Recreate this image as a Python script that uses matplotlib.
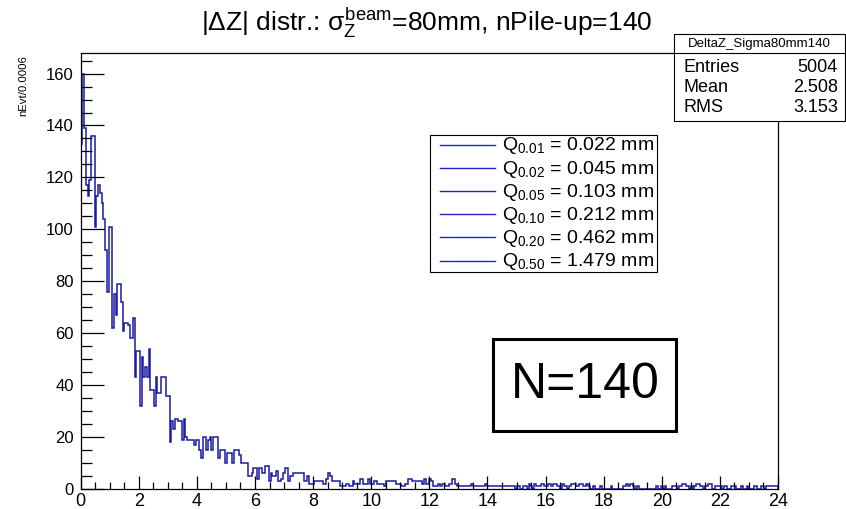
import numpy as np
import matplotlib
matplotlib.use("Agg")
import matplotlib.pyplot as plt
from matplotlib.patches import Rectangle
from matplotlib.lines import Line2D
from matplotlib.ticker import MultipleLocator

plt.rcParams['font.family'] = ['Liberation Sans', 'DejaVu Sans']
plt.rcParams['mathtext.fontset'] = 'custom'
plt.rcParams['mathtext.rm'] = 'Liberation Sans'
plt.rcParams['mathtext.it'] = 'Liberation Sans'
plt.rcParams['mathtext.bf'] = 'Liberation Sans:bold'

# |dZ| histogram, 400 bins of 0.06 mm between 0 and 24 mm
x_min, x_max, n_bins = 0.0, 24.0, 400
counts = [
    133, 160, 139, 117, 113, 119, 136, 136, 101, 113, 117, 114, 110, 104, 92, 76, 101, 101, 62, 75,
    67, 79, 79, 72, 61, 64, 64, 63, 58, 58, 66, 43, 53, 53, 32, 51, 43, 47, 43, 54,
    38, 38, 32, 43, 37, 37, 43, 43, 43, 36, 36, 18, 26, 23, 27, 27, 26, 26, 19, 27,
    20, 19, 19, 19, 19, 17, 19, 19, 15, 12, 20, 20, 15, 19, 20, 15, 20, 20, 20, 12,
    15, 15, 15, 10, 14, 14, 14, 10, 15, 15, 15, 13, 10, 10, 10, 10, 5, 5, 6, 8,
    8, 4, 8, 8, 6, 6, 9, 9, 3, 6, 5, 5, 7, 3, 3, 4, 6, 8, 8, 3,
    5, 5, 6, 6, 6, 6, 6, 6, 3, 3, 5, 2, 2, 2, 3, 3, 3, 3, 3, 2,
    2, 4, 6, 5, 3, 3, 3, 3, 3, 1, 1, 1, 2, 2, 1, 1, 3, 2, 2, 2,
    4, 4, 2, 2, 2, 4, 2, 2, 3, 3, 2, 2, 2, 2, 1, 3, 3, 3, 3, 3,
    3, 2, 2, 2, 1, 1, 2, 2, 4, 4, 3, 3, 3, 3, 3, 3, 2, 4, 2, 2,
    4, 3, 1, 1, 1, 2, 1, 2, 2, 1, 1, 2, 2, 4, 4, 2, 1, 1, 1, 1,
    1, 1, 1, 1, 2, 1, 1, 1, 1, 1, 1, 1, 2, 1, 1, 1, 1, 1, 1, 1,
    1, 1, 1, 1, 1, 1, 1, 1, 1, 0, 1, 1, 0, 0, 1, 1, 0, 2, 1, 0,
    2, 1, 1, 1, 2, 2, 1, 1, 2, 2, 1, 2, 2, 1, 1, 0, 2, 1, 1, 0,
    1, 2, 2, 2, 1, 1, 2, 2, 1, 1, 2, 1, 0, 0, 1, 0, 0, 0, 1, 0,
    0, 0, 0, 0, 1, 0, 0, 0, 0, 0, 0, 1, 1, 2, 1, 2, 2, 1, 0, 1,
    0, 0, 0, 0, 0, 0, 0, 0, 0, 0, 1, 0, 0, 1, 0, 1, 0, 0, 0, 1,
    1, 1, 0, 1, 1, 2, 2, 1, 1, 0, 1, 0, 1, 2, 2, 1, 1, 0, 1, 1,
    2, 2, 0, 0, 1, 1, 1, 1, 0, 1, 1, 0, 0, 1, 1, 1, 0, 0, 0, 1,
    0, 0, 1, 0, 0, 0, 1, 1, 0, 0, 1, 1, 0, 1, 1, 1, 1, 1, 1, 1,
]

quantile_levels = ['0.01', '0.02', '0.05', '0.10', '0.20', '0.50']
quantile_values = [0.022, 0.045, 0.103, 0.212, 0.462, 1.479]

stats_title = 'DeltaZ_Sigma80mm140'
stats_names = ['Entries', 'Mean', 'RMS']
stats_values = ['5004', '2.508', '3.153']

W, H = 846, 509
fig = plt.figure(figsize=(W / 100, H / 100), dpi=100)

def fx(px):
    return px / W

def fy(py):
    return 1 - py / H

ax = fig.add_axes([fx(80.7), fy(489), fx(778) - fx(80.7), fy(53.3) - fy(489)])

edges = np.linspace(x_min, x_max, n_bins + 1)
ax.stairs(counts, edges, color='#1a1aa6', lw=1.1, baseline=0)

ax.set_xlim(x_min, x_max)
ax.set_ylim(0, 167.8)
ax.xaxis.set_major_locator(MultipleLocator(2))
ax.xaxis.set_minor_locator(MultipleLocator(0.5))
ax.yaxis.set_major_locator(MultipleLocator(20))
ax.yaxis.set_minor_locator(MultipleLocator(5))
ax.tick_params(axis='x', which='major', direction='in', length=9.2, width=0.9, labelsize=13, pad=3)
ax.tick_params(axis='x', which='minor', direction='in', length=4.8, width=0.9)
ax.tick_params(axis='y', which='major', direction='in', length=16.3, width=0.9, labelsize=12, pad=5)
ax.tick_params(axis='y', which='minor', direction='in', length=8, width=0.9)
for sp in ax.spines.values():
    sp.set_linewidth(0.9)

# title with stacked sub/superscript
fig.text(fx(427), fy(31), r'|$\Delta$Z| distr.: $\sigma_{Z}^{beam}$=80mm, nPile-up=140',
         ha='center', va='baseline', fontsize=19)

fig.text(fx(23), fy(55), 'nEvt/0.0006', rotation=90, ha='center', va='top', fontsize=8.2)

# statistics box
fig.patches.append(Rectangle((fx(674), fy(121)), fx(845) - fx(674), fy(34) - fy(121),
                             transform=fig.transFigure, facecolor='white',
                             edgecolor='black', lw=0.8, zorder=5))
fig.lines.append(Line2D([fx(674), fx(845)], [fy(52.7), fy(52.7)],
                        transform=fig.transFigure, color='black', lw=0.8, zorder=6))
fig.text(fx(759), fy(43.5), stats_title, ha='center', va='center', fontsize=9.5, zorder=7)
for i, (name, val) in enumerate(zip(stats_names, stats_values)):
    y = fy(67 + 20 * i)
    fig.text(fx(683), y, name, ha='left', va='center', fontsize=13, zorder=7)
    fig.text(fx(838), y, val, ha='right', va='center', fontsize=13, zorder=7)

# quantile legend
fig.patches.append(Rectangle((fx(430), fy(272)), fx(657) - fx(430), fy(135) - fy(272),
                             transform=fig.transFigure, facecolor='white',
                             edgecolor='black', lw=0.8, zorder=5))
for i, (lvl, q) in enumerate(zip(quantile_levels, quantile_values)):
    y = 145 + 23.1 * i
    fig.lines.append(Line2D([fx(440), fx(495)], [fy(y), fy(y)], transform=fig.transFigure,
                            color='#2222cc', lw=1.0, zorder=6))
    fig.text(fx(502), fy(y + 5.5), r'Q$_{%s}$ = %.3f mm' % (lvl, q),
             ha='left', va='baseline', fontsize=14, zorder=7)

# N=140 label box
fig.patches.append(Rectangle((fx(493), fy(431)), fx(676) - fx(493), fy(339) - fy(431),
                             transform=fig.transFigure, facecolor='white',
                             edgecolor='black', lw=2.2, zorder=5))
fig.text(fx(585), fy(385), 'N=140', ha='center', va='center', fontsize=36, zorder=7)

fig.savefig('out.png', dpi=100)
